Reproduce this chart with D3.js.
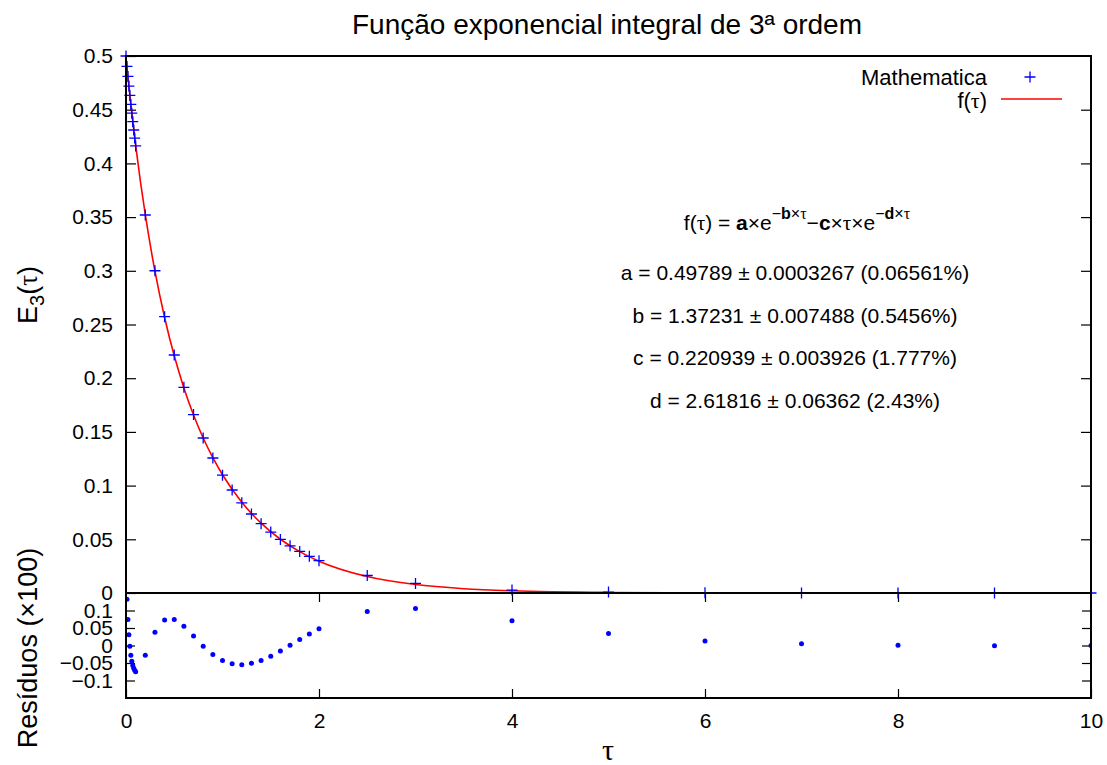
<!DOCTYPE html>
<html>
<head>
<meta charset="utf-8">
<script src="https://cdn.jsdelivr.net/npm/d3@7/dist/d3.min.js"></script>
<style>
  html, body { margin: 0; padding: 0; background: #fff; }
  svg { display: block; font-family: "Liberation Sans", Arial, sans-serif; }
</style>
</head>
<body>
<svg id="chart" width="1107" height="765"></svg>
<script>
// ---------- data ----------
const tau = [0, 0.01, 0.02, 0.03, 0.04, 0.05, 0.06, 0.07, 0.08, 0.09, 0.1,
  0.2, 0.3, 0.4, 0.5, 0.6, 0.7, 0.8, 0.9, 1.0, 1.1, 1.2, 1.3, 1.4, 1.5, 1.6, 1.7, 1.8, 1.9, 2.0,
  2.5, 3, 4, 5, 6, 7, 8, 9, 10];
const e3Values = [0.5, 0.49028, 0.48097, 0.47200, 0.46332, 0.45492, 0.44676, 0.43883, 0.43112, 0.42361, 0.41629,
  0.35194, 0.30004, 0.25729, 0.22160, 0.19155, 0.16613, 0.14433, 0.12570, 0.10969, 0.09588, 0.08394, 0.07358, 0.06458, 0.05674, 0.04991, 0.04393, 0.03871, 0.03414, 0.03013,
  0.01628, 0.00893, 0.00276, 0.00088, 0.00029, 0.00009, 0.00003, 0.00001, 0.000004];
const residuals = [0.211, 0.132, 0.074, 0.031, -0.002, -0.028, -0.045, -0.057, -0.065, -0.071, -0.075,
  -0.028, 0.038, 0.073, 0.074, 0.055, 0.027, -0.002, -0.026, -0.043, -0.052, -0.055, -0.051, -0.043, -0.031, -0.016, 0.001, 0.017, 0.033, 0.048,
  0.097, 0.106, 0.071, 0.034, 0.013, 0.005, 0.001, -0.001, 0.000];
const fitTau = [0, 0.05, 0.1, 0.15, 0.2, 0.3, 0.4, 0.5, 0.6, 0.7, 0.8, 0.9, 1.0, 1.2, 1.4, 1.6, 1.8, 2.0, 2.5, 3.0, 3.5, 4.0, 5, 6, 7, 8, 10];
const fitValues = [0.49789, 0.45518, 0.41705, 0.38288, 0.35221, 0.29965, 0.25655, 0.22085, 0.19098, 0.16577, 0.14434, 0.12595, 0.11012, 0.08448, 0.06499, 0.05005, 0.03854, 0.02965, 0.01532, 0.00786, 0.00400, 0.00203, 0.00052, 0.00013, 0.00003, 0.00001, 0.0];
const mainYTicks = [0, 0.05, 0.1, 0.15, 0.2, 0.25, 0.3, 0.35, 0.4, 0.45, 0.5];
const mainYTickLabels = ["0", "0.05", "0.1", "0.15", "0.2", "0.25", "0.3", "0.35", "0.4", "0.45", "0.5"];
const resYTicks = [-0.1, -0.05, 0, 0.05, 0.1];
const resYTickLabels = ["\u22120.1", "\u22120.05", "0", "0.05", "0.1"];
const xTicks = [0, 2, 4, 6, 8, 10];
const xTickLabels = ["0", "2", "4", "6", "8", "10"];
const fitParams = [
  "a = 0.49789 \u00b1 0.0003267 (0.06561%)",
  "b = 1.37231 \u00b1 0.007488 (0.5456%)",
  "c = 0.220939 \u00b1 0.003926 (1.777%)",
  "d = 2.61816 \u00b1 0.06362 (2.43%)"
];

// ---------- layout ----------
const L = 126, R = 1091, T = 56, MB = 593, RB = 698;
const svg = d3.select("#chart");
const BLUE = "#0000ff", RED = "#ff0000";

const x = d3.scaleLinear().domain([0, 10]).range([L, R]);
const y = d3.scaleLinear().domain([0, 0.5]).range([MB, T]);
const yr = d3.scaleLinear().domain([-0.15, 0.15]).range([RB, MB]);

svg.append("defs").append("clipPath").attr("id", "resClip")
  .append("rect").attr("x", L).attr("y", MB).attr("width", R - L).attr("height", RB - MB);

// title
svg.append("text").attr("x", 607).attr("y", 34).attr("text-anchor", "middle")
  .attr("font-size", 28).text("Função exponencial integral de 3ª ordem");

function styleAxis(g, fs) {
  g.select(".domain").remove();
  g.selectAll(".tick line").attr("stroke", "#000").attr("stroke-width", 1.2);
  g.selectAll(".tick text").attr("font-size", fs).attr("fill", "#000")
    .attr("font-family", "'Liberation Sans', Arial, sans-serif");
}

// main y axis left
svg.append("g").attr("transform", `translate(${L},0)`)
  .call(d3.axisLeft(y).tickValues(mainYTicks).tickSize(-10).tickPadding(13)
    .tickFormat((d, i) => mainYTickLabels[i]))
  .call(g => styleAxis(g, 21));
// main y axis right
svg.append("g").attr("transform", `translate(${R},0)`)
  .call(d3.axisRight(y).tickValues(mainYTicks.slice(1, -1)).tickSize(-10).tickFormat(""))
  .call(g => styleAxis(g, 21));

// residual y axis left
svg.append("g").attr("transform", `translate(${L},0)`)
  .call(d3.axisLeft(yr).tickValues(resYTicks).tickSize(-9).tickPadding(13)
    .tickFormat((d, i) => resYTickLabels[i]))
  .call(g => styleAxis(g, 21));
svg.append("g").attr("transform", `translate(${R},0)`)
  .call(d3.axisRight(yr).tickValues(resYTicks).tickSize(-9).tickFormat(""))
  .call(g => styleAxis(g, 21));

// residual x axes
svg.append("g").attr("transform", `translate(0,${RB})`)
  .call(d3.axisBottom(x).tickValues(xTicks).tickSize(-9).tickPadding(15)
    .tickFormat((d, i) => xTickLabels[i]))
  .call(g => styleAxis(g, 21));
svg.append("g").attr("transform", `translate(0,${MB})`)
  .call(d3.axisTop(x).tickValues(xTicks.slice(1, -1)).tickSize(-9).tickFormat(""))
  .call(g => styleAxis(g, 21));

// fitted curve
const line = d3.line().x((d, i) => x(fitTau[i])).y(d => y(d)).curve(d3.curveMonotoneX);
svg.append("path").datum(fitValues).attr("d", line)
  .attr("fill", "none").attr("stroke", RED).attr("stroke-width", 1.6);

// data crosses
const cs = 5.5;
const crosses = svg.append("g").attr("stroke", BLUE).attr("stroke-width", 1.3);
tau.forEach((t, i) => {
  const cx = x(t), cy = y(e3Values[i]);
  crosses.append("path").attr("d", `M${cx - cs},${cy}H${cx + cs}M${cx},${cy - cs}V${cy + cs}`);
});

// residual dots
svg.append("g").attr("clip-path", "url(#resClip)")
  .selectAll("circle").data(residuals).join("circle")
  .attr("cx", (d, i) => x(tau[i])).attr("cy", d => yr(d)).attr("r", 2.5).attr("fill", BLUE);

// borders
svg.append("rect").attr("x", L).attr("y", T).attr("width", R - L).attr("height", MB - T)
  .attr("fill", "none").attr("stroke", "#000").attr("stroke-width", 2);
svg.append("rect").attr("x", L).attr("y", MB).attr("width", R - L).attr("height", RB - MB)
  .attr("fill", "none").attr("stroke", "#000").attr("stroke-width", 2);

// axis labels
const ylab = svg.append("text").attr("transform", "translate(37,295) rotate(-90)")
  .attr("text-anchor", "middle").attr("font-size", 27);
ylab.append("tspan").text("E");
ylab.append("tspan").attr("font-size", 20).attr("dy", 7).text("3");
ylab.append("tspan").attr("dy", -7).text("(");
ylab.append("tspan").attr("font-family", "'Liberation Serif', serif").text("τ");
ylab.append("tspan").text(")");

svg.append("text").attr("transform", "translate(37,648) rotate(-90)")
  .attr("text-anchor", "middle").attr("font-size", 27).text("Resíduos (×100)");

svg.append("text").attr("x", 608).attr("y", 760).attr("text-anchor", "middle")
  .attr("font-size", 30).attr("font-family", "'Liberation Serif', serif").text("τ");

// legend
svg.append("text").attr("x", 987).attr("y", 85).attr("text-anchor", "end")
  .attr("font-size", 22).text("Mathematica");
svg.append("path").attr("d", `M${1030 - cs},77H${1030 + cs}M1030,${77 - cs}V${77 + cs}`)
  .attr("stroke", BLUE).attr("stroke-width", 1.3);
const lf = svg.append("text").attr("x", 987).attr("y", 108).attr("text-anchor", "end").attr("font-size", 22);
lf.append("tspan").text("f(");
lf.append("tspan").attr("font-family", "'Liberation Serif', serif").text("τ");
lf.append("tspan").text(")");
svg.append("line").attr("x1", 1001).attr("x2", 1062).attr("y1", 99).attr("y2", 99)
  .attr("stroke", RED).attr("stroke-width", 1.6);

// formula
const fx = svg.append("text").attr("x", 797).attr("y", 230).attr("text-anchor", "middle").attr("font-size", 21);
const serif = "'Liberation Serif', serif";
fx.append("tspan").text("f(");
fx.append("tspan").attr("font-family", serif).text("τ");
fx.append("tspan").text(") = ");
fx.append("tspan").attr("font-weight", "bold").text("a");
fx.append("tspan").text("×e");
fx.append("tspan").attr("dy", -11).attr("font-size", 16).text("−");
fx.append("tspan").attr("font-size", 16).attr("font-weight", "bold").text("b");
fx.append("tspan").attr("font-size", 16).text("×");
fx.append("tspan").attr("font-size", 16).attr("font-family", serif).text("τ");
fx.append("tspan").attr("dy", 11).text("−");
fx.append("tspan").attr("font-weight", "bold").text("c");
fx.append("tspan").text("×");
fx.append("tspan").attr("font-family", serif).text("τ");
fx.append("tspan").text("×e");
fx.append("tspan").attr("dy", -11).attr("font-size", 16).text("−");
fx.append("tspan").attr("font-size", 16).attr("font-weight", "bold").text("d");
fx.append("tspan").attr("font-size", 16).text("×");
fx.append("tspan").attr("font-size", 16).attr("font-family", serif).text("τ");

svg.append("g").selectAll("text").data(fitParams).join("text")
  .attr("x", 795).attr("y", (d, i) => 280 + i * 42.7).attr("text-anchor", "middle")
  .attr("font-size", 21).text(d => d);
</script>
</body>
</html>
